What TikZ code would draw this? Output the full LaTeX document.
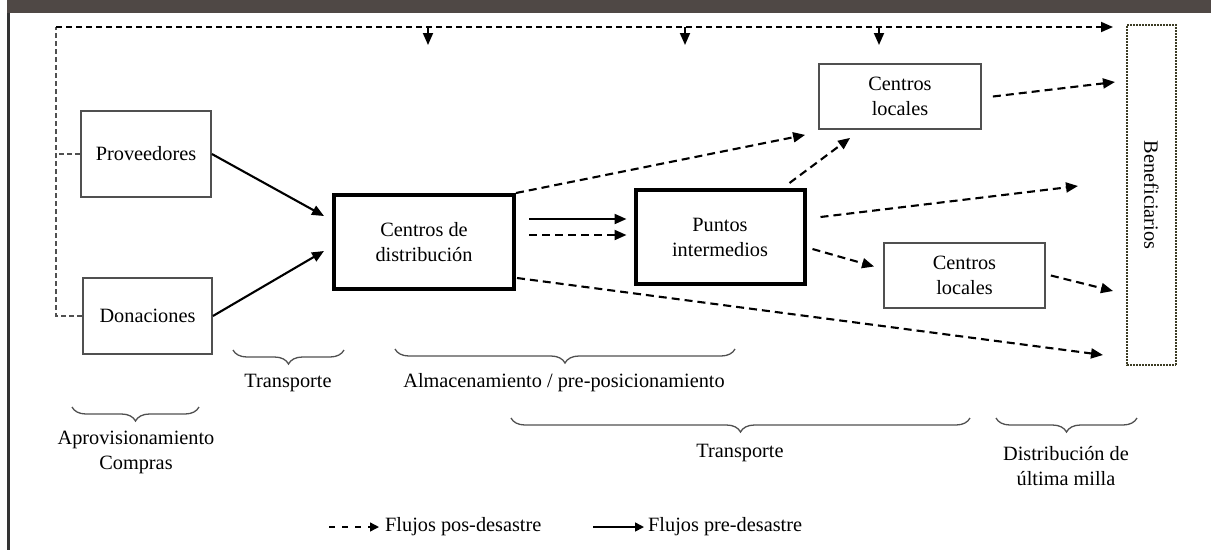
\documentclass[tikz,border=0pt]{standalone}
\usepackage{fontspec}
\setmainfont{Liberation Serif}
\usetikzlibrary{arrows.meta,decorations.pathreplacing}

\definecolor{barra}{HTML}{4F4845}
\definecolor{borde}{HTML}{505050}
\definecolor{oliva}{HTML}{3C3C24}

\begin{document}
\begin{tikzpicture}[x=1pt, y=-1pt,
        font=\fontsize{20.3pt}{25pt}\selectfont,
        caja/.style={draw=borde, line width=1.8pt, align=center, inner sep=0pt},
        gruesa/.style={draw=black, line width=4pt, align=center, inner sep=0pt},
        flujopre/.style={-{Triangle[length=12pt,width=10pt]}, line width=2.1pt},
        flujopos/.style={flujopre, dash pattern=on 8pt off 5pt},
        lazo/.style={draw=borde, line width=1.2pt, dash pattern=on 5pt off 3pt},
        llave/.style={decorate, decoration={brace, mirror, amplitude=14pt}, draw=borde, line width=1.3pt},
        etiqueta/.style={align=center, inner sep=0pt}]
        \useasboundingbox (0,0) rectangle (1211,550);
        \fill[barra] (7,0) rectangle (1211,13);
        \draw[line width=3pt, black!80] (8.5,13) -- (8.5,550);

        \node[caja, minimum width=130, minimum height=86] (prov) at (146,154) {Proveedores};
        \node[caja, minimum width=129, minimum height=76] (don) at (147.5,316) {Donaciones};
        \node[gruesa, minimum width=180, minimum height=94] (cd) at (424,242) {Centros de\\distribución};
        \node[gruesa, minimum width=169, minimum height=94] (pi) at (720,237) {Puntos\\intermedios};
        \node[caja, minimum width=162, minimum height=65] (cl1) at (900,96.5) {Centros\\locales};
        \node[caja, minimum width=161, minimum height=65] (cl2) at (964.5,275.5) {Centros\\locales};
        \node[draw=oliva, line width=2pt, densely dotted, inner sep=0pt, rotate=-90,
            minimum width=340, minimum height=49] (benef) at (1151.5,195) {Beneficiarios};

        % lazo superior
        \coordinate (esq) at (56,27);
        \coordinate (fsup) at (1113,27);
        \draw[lazo] (prov.west) -- (prov.west -| esq);
        \draw[lazo] (don.west) -- (don.west -| esq) -- (esq);
        \draw[flujopos, line width=1.8pt, dash pattern=on 6pt off 4pt] (esq) -- (fsup);
        \foreach \x in {428,685,879} {
            \coordinate (c\x) at (\x,27);
            \draw[flujopre, line width=1.8pt, -{Triangle[length=12pt,width=10pt]}] (c\x) -- ++(0,18);
        }

        \draw[flujopre] (prov.east) -- ([shift={(-8,-26)}]cd.west);
        \draw[flujopre] (don.east) -- ([shift={(-8,9)}]cd.west);
        \draw[flujopre] ([shift={(13,-23)}]cd.east) -- ([shift={(-7,-18)}]pi.west);
        \draw[flujopos] ([shift={(13,-7)}]cd.east) -- ([shift={(-7,-2)}]pi.west);

        \coordinate (f1) at (1115,82);
        \coordinate (f2) at (1078,186);
        \coordinate (f3) at (1113,291);
        \coordinate (f4) at (1103,355);
        \draw[flujopos] (cd.north east) -- ([shift={(-13,5)}]cl1.south west);
        \draw[flujopos] ([shift={(-17,-5)}]pi.north east) -- ([shift={(32,8)}]cl1.south west);
        \draw[flujopos] ([shift={(11,0)}]cl1.east) -- (f1);
        \draw[flujopos] ([shift={(14,-20)}]pi.east) -- (f2);
        \draw[flujopos] ([shift={(6,12)}]pi.east) -- ([shift={(-9,-9)}]cl2.west);
        \draw[flujopos] ([shift={(5,0)}]cl2.east) -- (f3);
        \draw[flujopos] ([shift={(1,-13)}]cd.south east) -- (f4);

        % llaves
        \draw[llave] (72,407) -- (199,407);
        \draw[llave] (233,350) -- (344,350);
        \draw[llave] (395,349) -- (735,349);
        \draw[llave] (511,418) -- (970,418);
        \draw[llave] (996,418) -- (1137,418);
        \node[etiqueta] (aprov) at (136,452) {Aprovisionamiento\\Compras};
        \node[etiqueta] (trans1) at (288,383) {Transporte};
        \node[etiqueta] (alm) at (564,383) {Almacenamiento / pre-posicionamiento};
        \node[etiqueta] (trans2) at (740,453) {Transporte};
        \node[etiqueta] (dist) at (1066,466) {Distribución de\\última milla};

        % leyenda
        \coordinate (lpos) at (329,527);
        \node[etiqueta, anchor=west] (tpos) at (385,527) {Flujos pos-desastre};
        \draw[line width=1.4pt, dash pattern=on 6pt off 7pt, -{Triangle[length=9pt,width=9pt]}] (lpos) -- ([shift={(-6,0)}]tpos.west);
        \coordinate (lpre) at (593,527);
        \node[etiqueta, anchor=west] (tpre) at (648,527) {Flujos pre-desastre};
        \draw[line width=1.6pt, -{Triangle[length=9pt,width=9pt]}] (lpre) -- ([shift={(-4,0)}]tpre.west);
\end{tikzpicture}
\end{document}
